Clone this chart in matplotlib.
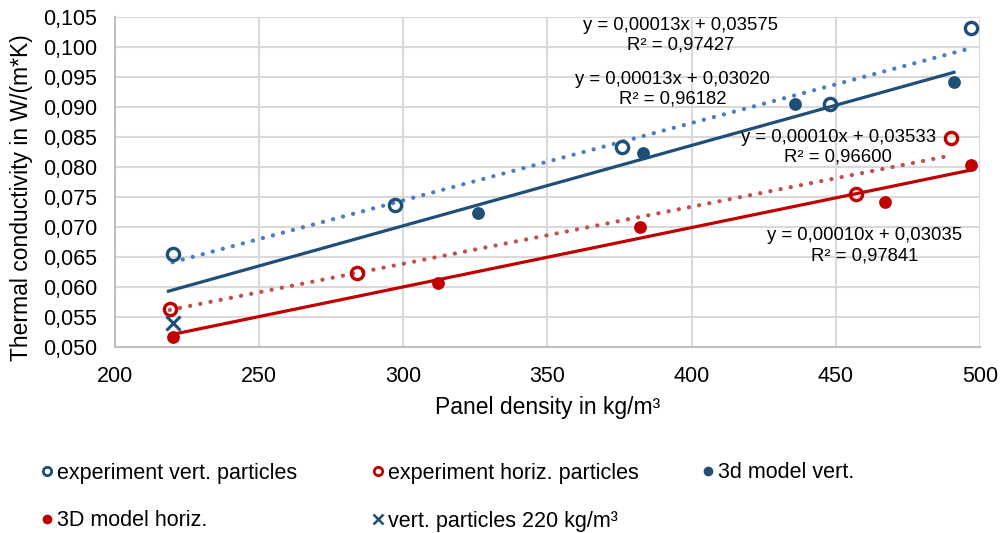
import matplotlib
matplotlib.use("Agg")
import matplotlib.pyplot as plt
from matplotlib.lines import Line2D
from matplotlib.ticker import FuncFormatter, MultipleLocator
import numpy as np

plt.rcParams['font.family'] = ['Liberation Sans', 'DejaVu Sans']

# ---- data ----
exp_vert_x = [220, 297, 376, 448, 497]
exp_vert_y = [0.0655, 0.0736, 0.0833, 0.0905, 0.1031]

exp_horiz_x = [219, 284, 457, 490]
exp_horiz_y = [0.0564, 0.0623, 0.0755, 0.0848]

model_vert_x = [326, 383, 436, 491]
model_vert_y = [0.0723, 0.0824, 0.0905, 0.0941]

model_horiz_x = [220, 312, 382, 467, 497]
model_horiz_y = [0.0516, 0.0606, 0.0700, 0.0741, 0.0803]

cross_x = [220]
cross_y = [0.0540]

# trendlines: slope, intercept, x start, x end (as displayed)
trend_names = ["exp_vert", "model_vert", "exp_horiz", "model_horiz"]
trend_slope = [0.0001289, 0.0001339, 0.0000950, 0.0000989]
trend_intercept = [0.03577, 0.03004, 0.03538, 0.03035]
trend_x0 = [220, 218, 219, 220]
trend_x1 = [497, 491.5, 490, 497]

trend_labels = [
    "y = 0,00013x + 0,03575\nR² = 0,97427",
    "y = 0,00013x + 0,03020\nR² = 0,96182",
    "y = 0,00010x + 0,03533\nR² = 0,96600",
    "y = 0,00010x + 0,03035\nR² = 0,97841",
]
label_pos_x = [396.3, 393.4, 450.8, 460.0]
label_pos_y = [0.1020, 0.09292, 0.08325, 0.06687]

legend_labels = ["experiment vert. particles", "experiment horiz. particles",
                 "3d model vert.", "3D model horiz.", "vert. particles 220 kg/m³"]

x_ticks = [200, 250, 300, 350, 400, 450, 500]

# ---- style ----
DARK_BLUE = '#1F4E79'
LIGHT_BLUE = '#4A7DC4'
RED = '#C00000'
LIGHT_RED = '#C0504D'
GRID = '#D9D9D9'

W, H = 1001, 533
fig = plt.figure(figsize=(W / 100, H / 100), dpi=100)
ax = fig.add_axes([115 / W, 1 - 347 / H, 865 / W, 330 / H])

ax.set_xlim(200, 500)
ax.set_ylim(0.050, 0.105)
ax.set_xticks(x_ticks)
ax.yaxis.set_major_locator(MultipleLocator(0.005))
ax.yaxis.set_major_formatter(FuncFormatter(lambda v, p: f"{v:.3f}".replace('.', ',')))
ax.grid(True, color=GRID, linewidth=1.5, zorder=0)
ax.set_axisbelow(True)
for s in ['top', 'right']:
    ax.spines[s].set_visible(False)
for s in ['left', 'bottom']:
    ax.spines[s].set_color('#BFBFBF')
    ax.spines[s].set_linewidth(1.5)
ax.tick_params(axis='both', length=0, labelsize=15.5, colors='black')
ax.tick_params(axis='y', pad=13)
ax.tick_params(axis='x', pad=14)

ax.set_xlabel("Panel density in kg/m³", fontsize=16.5, labelpad=6)
fig.text(22 / W, 1 - 198 / H, "Thermal conductivity in W/(m*K)", fontsize=16.5,
         rotation=90, ha='center', va='center')

# trendlines
trend_colors = [LIGHT_BLUE, DARK_BLUE, LIGHT_RED, RED]
trend_styles = ['dot', 'solid', 'dot', 'solid']
for i in range(4):
    xs = np.array([trend_x0[i], trend_x1[i]])
    ys = trend_slope[i] * xs + trend_intercept[i]
    if trend_styles[i] == 'dot':
        ax.plot(xs, ys, color=trend_colors[i], linewidth=3.1,
                linestyle=(0, (0.01, 2.4)), dash_capstyle='round', zorder=2)
    else:
        ax.plot(xs, ys, color=trend_colors[i], linewidth=2.3, zorder=2,
                solid_capstyle='butt')

# series
ax.plot(exp_vert_x, exp_vert_y, linestyle='none', marker='o', ms=8.8, mew=2.4,
        mfc='none', mec=DARK_BLUE, zorder=3)
ax.plot(exp_horiz_x, exp_horiz_y, linestyle='none', marker='o', ms=8.8, mew=2.4,
        mfc='none', mec=RED, zorder=3)
ax.plot(model_vert_x, model_vert_y, linestyle='none', marker='o', ms=9.2,
        mew=0, mfc=DARK_BLUE, zorder=3)
ax.plot(model_horiz_x, model_horiz_y, linestyle='none', marker='o', ms=9.2,
        mew=0, mfc=RED, zorder=3)
ax.plot(cross_x, cross_y, linestyle='none', marker='x', ms=10, mew=2.2,
        color=DARK_BLUE, zorder=3)

# trendline labels
for i in range(4):
    ax.text(label_pos_x[i], label_pos_y[i], trend_labels[i], fontsize=13.3,
            ha='center', va='center', linespacing=1.2, zorder=4)

# legend (manual positions, one entry each)
handles = [
    Line2D([], [], linestyle='none', marker='o', ms=6, mew=2, mfc='none', mec=DARK_BLUE),
    Line2D([], [], linestyle='none', marker='o', ms=6, mew=2, mfc='none', mec=RED),
    Line2D([], [], linestyle='none', marker='o', ms=7, mew=0, mfc=DARK_BLUE),
    Line2D([], [], linestyle='none', marker='o', ms=7, mew=0, mfc=RED),
    Line2D([], [], linestyle='none', marker='x', ms=6.5, mew=1.8, color=DARK_BLUE),
]
leg_px = [(42, 473), (373, 473), (703, 473), (42, 521), (373, 521)]
for h, lab, (px, py) in zip(handles, legend_labels, leg_px):
    fig.legend([h], [lab], loc='center left', bbox_to_anchor=(px / W, 1 - py / H),
               frameon=False, fontsize=15.5, handlelength=0.5, handletextpad=0.2,
               borderpad=0, borderaxespad=0)

fig.savefig("out.png", dpi=100)
